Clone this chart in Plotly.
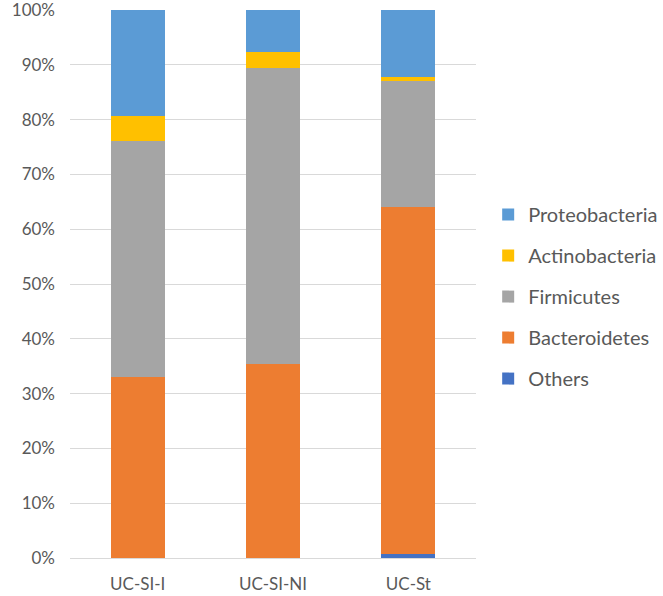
import plotly.graph_objects as go

categories = ["UC-SI-I", "UC-SI-NI", "UC-St"]
others = [0.0, 0.0, 0.8]
bacteroidetes = [33.0, 35.5, 63.2]
firmicutes = [43.2, 53.9, 23.1]
actinobacteria = [4.4, 3.0, 0.65]
proteobacteria = [19.4, 7.6, 12.25]

series = [
    ("Others", others, "#4472C4", 5),
    ("Bacteroidetes", bacteroidetes, "#ED7D31", 4),
    ("Firmicutes", firmicutes, "#A5A5A5", 3),
    ("Actinobacteria", actinobacteria, "#FFC000", 2),
    ("Proteobacteria", proteobacteria, "#5B9BD5", 1),
]

fig = go.Figure()
for name, vals, col, rank in series:
    fig.add_trace(go.Bar(
        x=categories, y=vals, name=name, legendgroup=name, legendrank=rank,
        marker=dict(color=col, line=dict(width=0)),
    ))

font_family = "Lato, Open Sans, sans-serif"
fig.update_layout(
    barmode="stack",
    bargap=0.6,
    width=663, height=596,
    margin=dict(l=70, r=187, t=10, b=38, autoexpand=False),
    plot_bgcolor="white", paper_bgcolor="white",
    font=dict(family=font_family, size=17, color="#595959"),
    showlegend=True,
    legend=dict(
        traceorder="grouped",
        tracegroupgap=12,
        x=1.03, xanchor="left",
        y=0.477, yanchor="middle",
        font=dict(size=20, color="#595959"),
        itemwidth=30,
    ),
    yaxis=dict(
        range=[0, 100.02],
        tickvals=[0, 10, 20, 30, 40, 50, 60, 70, 80, 90, 100],
        ticktext=[f"{v}%" for v in range(0, 101, 10)],
        showgrid=True, gridcolor="#D9D9D9", gridwidth=1,
        zeroline=False, showline=False,
        ticklabelstandoff=14,
        ticklabeloverflow="allow",
        tickfont=dict(size=17),
        automargin=False,
    ),
    xaxis=dict(
        showline=True, linecolor="#D9D9D9", linewidth=1,
        showgrid=False,
        ticks="",
        ticklabelstandoff=11,
        ticklabeloverflow="allow",
        tickfont=dict(size=17),
        automargin=False,
    ),
)

fig.write_html(
    "out.html",
    config={"displayModeBar": False},
    post_script="document.body.style.margin='0';document.body.style.padding='0';",
)
